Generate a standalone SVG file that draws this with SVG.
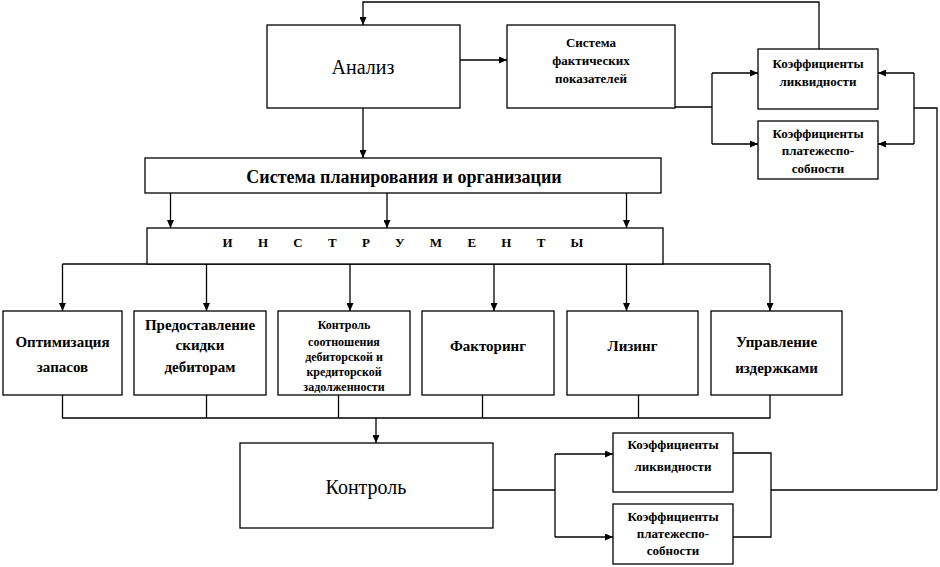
<svg xmlns="http://www.w3.org/2000/svg" width="940" height="567" viewBox="0 0 940 567" font-family="'Liberation Serif', 'Times New Roman', serif">
<defs>
<marker id="arr" markerUnits="userSpaceOnUse" markerWidth="8" markerHeight="7" refX="8" refY="3.5" orient="auto">
<path d="M0,0 L8,3.5 L0,7 Z" fill="#000"/>
</marker>
<style>
rect.box{fill:#fff;stroke:#000;stroke-width:1.3}
.c path{fill:none;stroke:#000;stroke-width:1.3}
text{fill:#000;text-anchor:middle}
.big{font-size:20px}
.mid{font-size:18px;font-weight:bold}
.t{font-size:15px;font-weight:bold}
.s{font-size:13px;font-weight:bold}
.xs{font-size:12px;font-weight:bold}
</style>
</defs>
<rect width="940" height="567" fill="#fff"/>
<g class="c" id="connectors">
<path d="M819,49 V2 H363 V25" marker-end="url(#arr)"/>
<path d="M460,60 H507" marker-end="url(#arr)"/>
<path d="M363,108 V158" marker-end="url(#arr)"/>
<path d="M675,107 H712"/>
<path d="M712,73 V144"/>
<path d="M712,73 H758" marker-end="url(#arr)"/>
<path d="M712,144 H758" marker-end="url(#arr)"/>
<path d="M937,490 V108 H914"/>
<path d="M914,73 V144"/>
<path d="M914,73 H878" marker-end="url(#arr)"/>
<path d="M914,144 H878" marker-end="url(#arr)"/>
<path d="M170.5,193 V228" marker-end="url(#arr)"/>
<path d="M387,193 V228" marker-end="url(#arr)"/>
<path d="M626.5,193 V228" marker-end="url(#arr)"/>
<path d="M62.5,264 H770"/>
<path d="M62.5,264 V311" marker-end="url(#arr)"/>
<path d="M206.5,264 V311" marker-end="url(#arr)"/>
<path d="M350,264 V311" marker-end="url(#arr)"/>
<path d="M494,264 V311" marker-end="url(#arr)"/>
<path d="M626.5,264 V311" marker-end="url(#arr)"/>
<path d="M770,264 V311" marker-end="url(#arr)"/>
<path d="M62.5,395 V418 H770 V395"/>
<path d="M206.5,395 V418"/>
<path d="M338.5,395 V418"/>
<path d="M482.5,395 V418"/>
<path d="M638.5,395 V418"/>
<path d="M376,418 V443" marker-end="url(#arr)"/>
<path d="M493,490 H555"/>
<path d="M555,454 V537"/>
<path d="M555,454 H613" marker-end="url(#arr)"/>
<path d="M555,537 H613" marker-end="url(#arr)"/>
<path d="M733,453 H771 V537 H733"/>
<path d="M771,490 H937"/>
</g>
<g id="analiz"><rect class="box" x="267" y="25" width="193" height="83"/><text class="big" x="363" y="74">Анализ</text></g>
<g id="sysfact"><rect class="box" x="507" y="25" width="168" height="83"/>
<text class="s" x="591" y="47">Система</text><text class="s" x="591" y="65">фактических</text><text class="s" x="591" y="83">показателей</text></g>
<g id="kl1"><rect class="box" x="758" y="49" width="120" height="60"/>
<text class="s" x="818" y="67.5">Коэффициенты</text><text class="s" x="818" y="85.5">ликвидности</text></g>
<g id="kp1"><rect class="box" x="758" y="121" width="120" height="58"/>
<text class="s" x="818" y="137.5">Коэффициенты</text><text class="s" x="818" y="155">платежеспо-</text><text class="s" x="818" y="172.5">собности</text></g>
<g id="plan"><rect class="box" x="145" y="158" width="516" height="35"/>
<text class="mid" x="404" y="183">Система планирования и организации</text></g>
<g id="instr"><rect class="box" x="147" y="228" width="516" height="36"/>
<text class="s" x="403" y="247" style="word-spacing:22px">И Н С Т Р У М Е Н Т Ы</text></g>
<g id="b1"><rect class="box" x="3" y="311" width="119" height="84"/>
<text class="t" x="62.5" y="347">Оптимизация</text><text class="t" x="62.5" y="372">запасов</text></g>
<g id="b2"><rect class="box" x="134" y="311" width="132" height="84"/>
<text class="t" x="200" y="330">Предоставление</text><text class="t" x="200" y="350">скидки</text><text class="t" x="200" y="372">дебиторам</text></g>
<g id="b3"><rect class="box" x="278" y="311" width="132" height="84"/>
<text class="xs" x="344" y="329">Контроль</text><text class="xs" x="344" y="346">соотношения</text><text class="xs" x="344" y="361">дебиторской и</text><text class="xs" x="344" y="376">кредиторской</text><text class="xs" x="344" y="391">задолженности</text></g>
<g id="b4"><rect class="box" x="422" y="311" width="132" height="84"/>
<text class="t" x="488" y="351">Факторинг</text></g>
<g id="b5"><rect class="box" x="567" y="311" width="131" height="84"/>
<text class="t" x="632.5" y="351">Лизинг</text></g>
<g id="b6"><rect class="box" x="711" y="311" width="131" height="84"/>
<text class="t" x="776.5" y="347">Управление</text><text class="t" x="776.5" y="373">издержками</text></g>
<g id="kontrol"><rect class="box" x="240" y="443" width="253" height="85"/>
<text class="big" x="366" y="494">Контроль</text></g>
<g id="kl2"><rect class="box" x="613" y="433" width="120" height="59"/>
<text class="s" x="673" y="448.5">Коэффициенты</text><text class="s" x="673" y="470.5">ликвидности</text></g>
<g id="kp2"><rect class="box" x="613" y="504" width="120" height="60"/>
<text class="s" x="673" y="520.5">Коэффициенты</text><text class="s" x="673" y="537.5">платежеспо-</text><text class="s" x="673" y="554.5">собности</text></g>
</svg>
